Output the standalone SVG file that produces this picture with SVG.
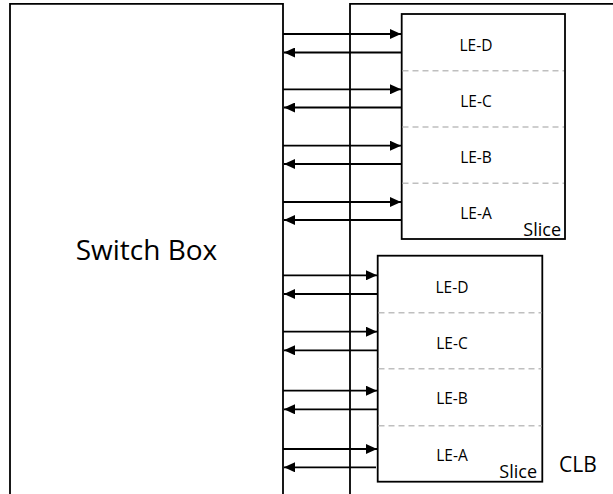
<svg xmlns="http://www.w3.org/2000/svg" width="613" height="494" viewBox="0 0 613 494">
<style>
.box{fill:none;stroke:#000;stroke-width:1.8}
.slice{fill:#fff;stroke:#000;stroke-width:1.8}
.div{stroke:#bfbfbf;stroke-width:1.4;stroke-dasharray:6,4}
.wire{stroke:#000;stroke-width:1.8;fill:none}
.le{font-family:"Open Sans","Liberation Sans",sans-serif;font-size:15.5px;fill:#000;text-anchor:middle}
.sl{font-family:"Open Sans","Liberation Sans",sans-serif;font-size:18px;fill:#000;text-anchor:end}
</style>
<defs>
<marker id="ah" markerWidth="11" markerHeight="10" refX="11" refY="5" orient="auto" markerUnits="userSpaceOnUse">
<path d="M0,0 L11,5 L0,10 Z" fill="#000"/>
</marker>
</defs>
<rect width="613" height="494" fill="#fff"/>
<g id="switchbox">
<path class="box" d="M10,500 V3.8 H283 V500"/>
<text x="146.5" y="260" font-family="Open Sans, Liberation Sans, sans-serif" font-size="28" text-anchor="middle">Switch Box</text>
</g>
<g id="clb">
<path class="box" d="M350,500 V3.8 H620"/>
<text x="559" y="471.5" font-family="Open Sans, Liberation Sans, sans-serif" font-size="21">CLB</text>
</g>
<g id="connectors">
<line class="wire" x1="283" y1="34" x2="401" y2="34" marker-end="url(#ah)"/>
<line class="wire" x1="401" y1="52.5" x2="284" y2="52.5" marker-end="url(#ah)"/>
<line class="wire" x1="283" y1="89.3" x2="401" y2="89.3" marker-end="url(#ah)"/>
<line class="wire" x1="401" y1="107.5" x2="284" y2="107.5" marker-end="url(#ah)"/>
<line class="wire" x1="283" y1="145.7" x2="401" y2="145.7" marker-end="url(#ah)"/>
<line class="wire" x1="401" y1="164" x2="284" y2="164" marker-end="url(#ah)"/>
<line class="wire" x1="283" y1="202" x2="401" y2="202" marker-end="url(#ah)"/>
<line class="wire" x1="401" y1="220" x2="284" y2="220" marker-end="url(#ah)"/>
<line class="wire" x1="283" y1="275.3" x2="377" y2="275.3" marker-end="url(#ah)"/>
<line class="wire" x1="377" y1="294" x2="284" y2="294" marker-end="url(#ah)"/>
<line class="wire" x1="283" y1="331.7" x2="377" y2="331.7" marker-end="url(#ah)"/>
<line class="wire" x1="377" y1="350.3" x2="284" y2="350.3" marker-end="url(#ah)"/>
<line class="wire" x1="283" y1="390.7" x2="377" y2="390.7" marker-end="url(#ah)"/>
<line class="wire" x1="377" y1="409.3" x2="284" y2="409.3" marker-end="url(#ah)"/>
<line class="wire" x1="283" y1="449" x2="377" y2="449" marker-end="url(#ah)"/>
<line class="wire" x1="376" y1="467.3" x2="284" y2="467.3" marker-end="url(#ah)"/>
</g>
<g id="slice-top">
<rect class="slice" x="401.7" y="14" width="163.3" height="225"/>
<line class="div" x1="402.5" y1="70.7" x2="564" y2="70.7"/>
<line class="div" x1="402.5" y1="127" x2="564" y2="127"/>
<line class="div" x1="402.5" y1="183.3" x2="564" y2="183.3"/>
<text class="le" x="476" y="50.7">LE-D</text>
<text class="le" x="476" y="106.5">LE-C</text>
<text class="le" x="476" y="162.5">LE-B</text>
<text class="le" x="476" y="218.5">LE-A</text>
<text class="sl" x="561" y="235.5">Slice</text>
</g>
<g id="slice-bottom">
<rect class="slice" x="377.7" y="255.7" width="164.6" height="226"/>
<line class="div" x1="378.5" y1="312.7" x2="541.5" y2="312.7"/>
<line class="div" x1="378.5" y1="368.7" x2="541.5" y2="368.7"/>
<line class="div" x1="378.5" y1="425.7" x2="541.5" y2="425.7"/>
<text class="le" x="452" y="292.7">LE-D</text>
<text class="le" x="452" y="348.7">LE-C</text>
<text class="le" x="452" y="404.3">LE-B</text>
<text class="le" x="452" y="460.7">LE-A</text>
<text class="sl" x="537" y="478.3">Slice</text>
</g>
</svg>
